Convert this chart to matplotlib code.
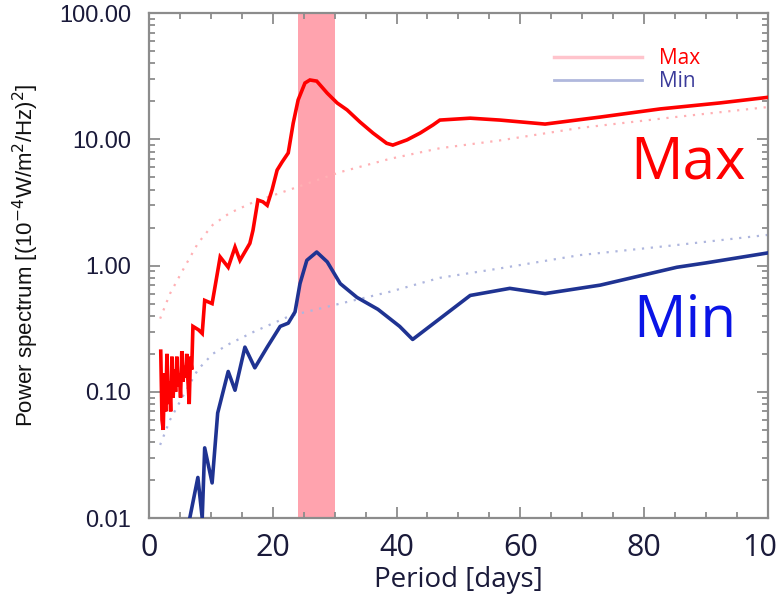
"""
Power spectrum of Max / Min series vs period, with the ~27 day band highlighted.
"""

import matplotlib
matplotlib.use("Agg")
import matplotlib.pyplot as plt
from matplotlib.lines import Line2D
from matplotlib.ticker import FormatStrFormatter, MultipleLocator

# --- data ---
max_period = [1.9, 2.1, 2.3, 2.5, 2.7, 2.9, 3.1, 3.3, 3.5, 3.7, 3.9, 4.1, 4.3, 4.5,
              4.7, 4.9, 5.1, 5.3, 5.5, 5.7, 5.9, 6.1, 6.3, 6.5, 6.7, 6.9, 7.1, 8.0,
              8.6, 9.0, 10.2, 11.5, 12.8, 13.9, 14.7, 16.3, 16.8, 17.6, 18.4, 19.1,
              19.9, 20.7, 21.5, 22.5, 23.3, 24.1, 25.2, 26.0, 27.1, 28.8, 30.4, 32.0,
              34.1, 36.2, 38.4, 39.4, 41.7, 43.8, 45.9, 47.0, 51.9, 56.7, 64.0, 72.9,
              82.6, 92.2, 100.0]
max_power = [0.21, 0.06, 0.05, 0.14, 0.07, 0.20, 0.08, 0.12, 0.07, 0.19, 0.09, 0.15,
             0.10, 0.19, 0.11, 0.14, 0.09, 0.21, 0.12, 0.16, 0.13, 0.20, 0.12, 0.08,
             0.19, 0.15, 0.33, 0.31, 0.29, 0.53, 0.50, 1.17, 0.97, 1.40, 1.10, 1.50,
             1.90, 3.3, 3.2, 3.0, 4.0, 5.7, 6.6, 7.8, 13.4, 20.5, 27.9, 29.5, 28.9,
             23.2, 19.4, 17.1, 13.7, 11.2, 9.3, 9.0, 9.9, 11.2, 13.0, 14.2, 14.7,
             14.2, 13.2, 15.0, 17.4, 19.4, 21.5]

min_period = [6.4, 7.9, 8.6, 9.0, 10.2, 11.1, 12.8, 13.9, 15.5, 17.1, 19.1, 21.2,
              22.5, 23.6, 24.4, 25.5, 27.1, 28.8, 30.9, 33.6, 37.0, 40.5, 42.6, 47.0,
              51.9, 58.3, 64.0, 72.9, 85.3, 90.0, 100.0]
min_power = [0.009, 0.021, 0.010, 0.036, 0.019, 0.068, 0.145, 0.103, 0.226, 0.155,
             0.226, 0.33, 0.35, 0.43, 0.72, 1.10, 1.28, 1.07, 0.72, 0.56, 0.45, 0.33,
             0.26, 0.38, 0.58, 0.66, 0.60, 0.70, 0.97, 1.05, 1.26]

# significance levels (dotted)
sig_period = [1.8, 3.4, 5.3, 7.9, 10.3, 13.0, 17.0, 22.8, 30.9, 38.9, 47.0, 56.7,
              69.6, 85.0, 100.0]
sig_max = [0.38, 0.60, 0.89, 1.50, 2.10, 2.60, 3.20, 4.00, 5.50, 7.00, 8.50, 9.80,
           12.3, 15.0, 18.0]
sig_min = [0.038, 0.060, 0.089, 0.15, 0.20, 0.24, 0.30, 0.40, 0.50, 0.62, 0.80,
           0.95, 1.21, 1.45, 1.75]

band = (24.0, 30.0)
legend_labels = ["Max", "Min"]

RED = "#ff0000"
NAVY = "#1f3392"
TICK_COLOR = "#1a1a3a"
SPINE = "#8c8c8c"

fig = plt.figure(figsize=(7.78, 6.06), dpi=100)
ax = fig.add_axes([0.1915, 0.145, 0.7955, 0.8335])

ax.axvspan(band[0], band[1], color="#ffa3ae", lw=0, zorder=1)

ax.plot(sig_period, sig_max, color="#ffb0b4", lw=1.6, ls=(0, (1, 3)), zorder=2)
ax.plot(sig_period, sig_min, color="#aeb6de", lw=1.6, ls=(0, (1, 3)), zorder=2)
ax.plot(max_period, max_power, color=RED, lw=2.6, zorder=3, solid_joinstyle="miter")
ax.plot(min_period, min_power, color=NAVY, lw=2.6, zorder=3)

ax.set_yscale("log")
ax.set_xlim(0, 100)
ax.set_ylim(0.01, 100)

ax.xaxis.set_major_locator(MultipleLocator(20))
ax.xaxis.set_minor_locator(MultipleLocator(5))
ax.yaxis.set_major_formatter(FormatStrFormatter("%.2f"))

for side in ax.spines.values():
    side.set_color(SPINE)
    side.set_linewidth(1.6)
ax.tick_params(which="both", direction="in", top=True, right=True, color=SPINE, width=1.3)
ax.tick_params(which="major", length=8)
ax.tick_params(which="minor", length=4)
ax.tick_params(axis="x", which="major", labelsize=22, pad=11, labelcolor=TICK_COLOR)
ax.tick_params(axis="y", which="major", labelsize=17, pad=13, labelcolor=TICK_COLOR)
ax.tick_params(axis="y", which="minor", labelleft=False)
for lbl in ax.get_xticklabels():
    lbl.set_family("Open Sans")
for lbl in ax.get_yticklabels():
    lbl.set_family("Liberation Sans")

ax.set_xlabel("Period [days]", fontsize=20, family="Open Sans", color=TICK_COLOR, labelpad=2)
ax.set_ylabel("Power spectrum [(10$^{-4}$W/m$^2$/Hz)$^2$]", fontsize=16,
              family="Liberation Sans", color="#111111")
ax.yaxis.set_label_coords(-0.175, 0.52)

ax.text(0.871, 0.673, "Max", transform=ax.transAxes, color=RED, fontsize=42,
        family="Open Sans", ha="center", va="baseline")
ax.text(0.866, 0.358, "Min", transform=ax.transAxes, color="#0a14e6", fontsize=42,
        family="Open Sans", ha="center", va="baseline")

handles = [Line2D([], [], color="#ffc4cc", lw=2.5), Line2D([], [], color="#b0b8dd", lw=2)]
ax.legend(handles, legend_labels, loc="upper left", bbox_to_anchor=(0.655, 0.93),
          frameon=False, handlelength=4.2, handletextpad=0.8,
          labelspacing=0.1, borderpad=0, borderaxespad=0,
          labelcolor=[RED, "#3b3b9a"], prop={"family": "Open Sans", "size": 15})

fig.savefig("out.png", dpi=100)
